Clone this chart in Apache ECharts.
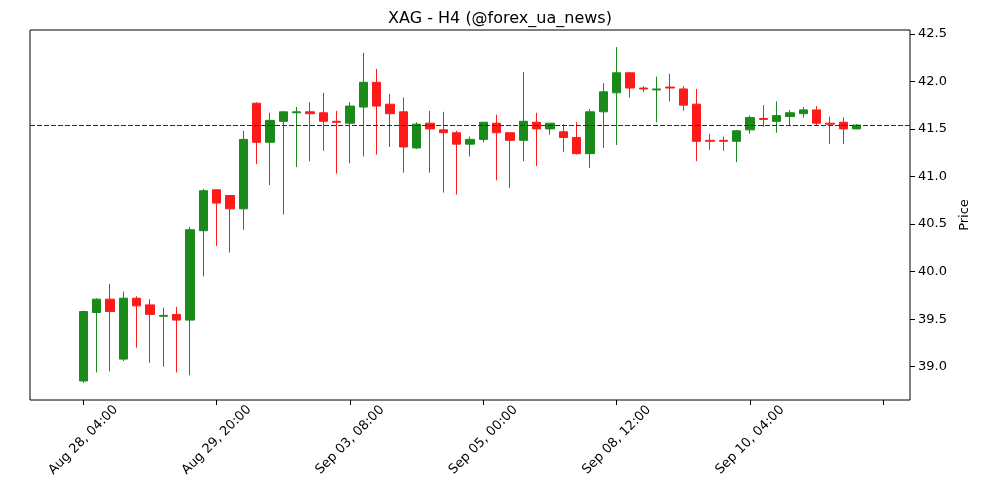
<!DOCTYPE html>
<html><head><meta charset="utf-8">
<script src="https://cdn.jsdelivr.net/npm/echarts@6/dist/echarts.min.js"></script>
<style>html,body{margin:0;padding:0;background:#fff}#c{width:1000px;height:500px}</style>
</head><body><div id="c"></div>
<script>
const opens  = [38.85,39.57,39.71,39.08,39.72,39.65,39.53,39.55,39.49,40.43,40.86,40.80,40.66,41.77,41.36,41.58,41.67,41.68,41.67,41.58,41.56,41.73,41.99,41.76,41.68,41.30,41.56,41.49,41.46,41.34,41.39,41.56,41.46,41.38,41.57,41.50,41.47,41.41,41.24,41.68,41.88,42.09,41.93,41.91,41.94,41.92,41.76,41.38,41.38,41.37,41.49,41.61,41.58,41.63,41.66,41.70,41.56,41.57,41.50];
const closes = [39.58,39.71,39.58,39.72,39.64,39.55,39.54,39.49,40.44,40.85,40.72,40.66,41.39,41.36,41.59,41.68,41.68,41.66,41.58,41.57,41.74,41.99,41.74,41.66,41.31,41.55,41.50,41.46,41.34,41.39,41.57,41.46,41.38,41.58,41.50,41.56,41.41,41.24,41.68,41.89,42.09,41.93,41.92,41.92,41.93,41.75,41.37,41.37,41.37,41.48,41.62,41.60,41.64,41.67,41.70,41.56,41.55,41.50,41.54];
const lows   = [38.83,38.94,38.95,39.06,39.20,39.04,39.00,38.94,38.91,39.95,40.27,40.20,40.44,41.13,40.91,40.60,41.10,41.16,41.27,41.03,41.14,41.21,41.23,41.31,41.04,41.29,41.04,40.83,40.81,41.21,41.36,40.96,40.88,41.16,41.11,41.44,41.26,41.23,41.09,41.30,41.33,41.83,41.89,41.57,41.79,41.69,41.16,41.28,41.27,41.15,41.45,41.52,41.46,41.53,41.62,41.54,41.34,41.34,41.50];
const highs  = [39.59,39.72,39.87,39.79,39.74,39.71,39.62,39.63,40.47,40.87,40.86,40.80,41.48,41.78,41.67,41.68,41.73,41.78,41.88,41.69,41.78,42.30,42.13,41.87,41.83,41.57,41.69,41.68,41.48,41.42,41.57,41.65,41.46,42.10,41.67,41.56,41.55,41.57,41.71,41.98,42.36,42.10,41.95,42.05,42.08,41.95,41.92,41.45,41.42,41.49,41.64,41.75,41.79,41.70,41.73,41.74,41.63,41.62,41.55];
const tickLabels = {0:'Aug 28, 04:00',10:'Aug 29, 20:00',20:'Sep 03, 08:00',30:'Sep 05, 00:00',40:'Sep 08, 12:00',50:'Sep 10, 04:00',60:''};
const yTicks = [39.0,39.5,40.0,40.5,41.0,41.5,42.0,42.5];
const refLine = 41.542;

const PAD = 4, LAST = 62;
const cats = [], data = [];
for (let i = -PAD; i <= LAST; i++) {
  cats.push(String(i));
  if (i >= 0 && i < opens.length) data.push([opens[i], closes[i], lows[i], highs[i]]);
  else data.push('-');
}
const isTick = (idx) => (idx - PAD) % 10 === 0 && (idx - PAD) >= 0;
const chart = echarts.init(document.getElementById('c'));
chart.setOption({
  animation: false,
  title: {text: 'XAG - H4 (@forex_ua_news)', left: 'center', top: 6,
    textStyle: {fontFamily: 'DejaVu Sans', fontSize: 16, fontWeight: 'normal', color: '#000'}},
  grid: {left: 30, right: 90, top: 30, bottom: 100, show: true, borderColor: '#000', borderWidth: 1},
  xAxis: {type: 'category', data: cats, boundaryGap: false,
    axisLine: {show: false},
    axisTick: {show: true, interval: (idx) => isTick(idx), length: 5, lineStyle: {color: '#000'}},
    axisLabel: {interval: (idx) => isTick(idx), rotate: 45, margin: 40,
      align: 'center', verticalAlign: 'middle',
      fontFamily: 'DejaVu Sans', fontSize: 13, color: '#000',
      formatter: (v) => tickLabels[+v] !== undefined ? tickLabels[+v] : ''},
    splitLine: {show: false}},
  yAxis: {type: 'value', position: 'right', min: 38.65, max: 42.54, scale: true,
    name: 'Price', nameLocation: 'middle', nameRotate: 90, nameGap: 48,
    nameTextStyle: {fontFamily: 'DejaVu Sans', fontSize: 13, color: '#000'},
    axisLine: {show: false},
    axisTick: {show: true, customValues: yTicks, length: 5, lineStyle: {color: '#000'}},
    axisLabel: {customValues: yTicks, fontFamily: 'DejaVu Sans', fontSize: 13, color: '#000',
      formatter: (v) => v.toFixed(1)},
    splitLine: {show: false}},
  series: [{type: 'candlestick', data: data, barWidth: 9,
    itemStyle: {color: '#1a8a1a', color0: '#ff1a1a', borderColor: '#1a8a1a', borderColor0: '#ff1a1a', borderWidth: 1},
    markLine: {symbol: 'none', silent: true, label: {show: false},
      lineStyle: {color: '#1a1acc', type: [5, 2], width: 1.2},
      data: [{yAxis: refLine}]}}]
});
</script></body></html>
